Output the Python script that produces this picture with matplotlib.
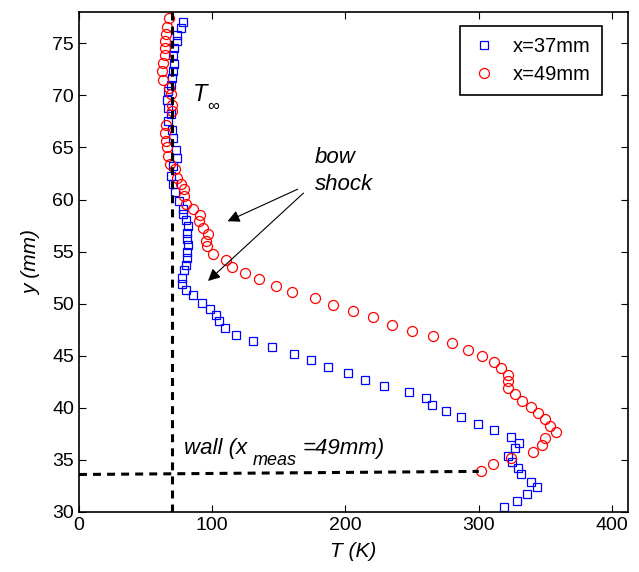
import matplotlib
matplotlib.use('Agg')
import matplotlib.pyplot as plt

plt.rcParams['font.family'] = 'Liberation Sans'

# x = 37 mm profile
y37 = [77.0, 76.5, 75.8, 75.2, 74.55, 73.9, 73.0, 72.3, 71.7, 71.0, 70.4, 69.6, 68.8, 68.2,
       67.5, 66.7, 65.9, 64.8, 64.0, 63.2, 62.3, 61.5, 60.7, 59.9, 59.1, 58.6, 58.0, 57.5,
       56.8, 56.2, 55.6, 55.0, 54.4, 53.7, 53.2, 52.5, 51.9, 51.3, 50.8, 50.1, 49.5, 48.9,
       48.3, 47.7, 47.0, 46.4, 45.8, 45.2, 44.6, 43.9, 43.3, 42.7, 42.1, 41.5, 40.9, 40.3,
       39.7, 39.1, 38.45, 37.85, 37.2, 36.6, 36.1, 35.4, 34.8, 34.2, 33.6, 32.9, 32.4, 31.7,
       31.1, 30.5]
T37 = [78.3, 76.3, 73.8, 73.3, 71.5, 70.8, 71.5, 70.8, 70.0, 69.0, 67.0, 65.8, 67.0, 68.8,
       66.6, 69.6, 70.8, 72.8, 73.3, 70.8, 69.0, 70.3, 72.0, 75.3, 77.8, 78.3, 80.0, 81.5,
       81.3, 81.0, 81.5, 80.8, 80.8, 80.3, 78.8, 77.3, 77.5, 80.0, 85.8, 92.0, 98.3, 102.8,
       104.8, 109.6, 117.8, 130.5, 144.6, 161.4, 174.1, 186.6, 201.6, 214.9, 229.1, 247.4,
       260.4, 264.9, 275.4, 286.9, 299.8, 311.5, 324.2, 330.0, 327.4, 322.2, 324.7, 329.7,
       331.7, 339.0, 344.0, 336.0, 329.0, 319.2]

# x = 49 mm profile
y49 = [77.4, 76.6, 75.9, 75.2, 74.55, 73.9, 73.1, 72.3, 71.5, 70.7, 70.1, 69.1, 68.5, 67.2,
       66.4, 65.6, 65.0, 64.2, 63.4, 62.9, 62.1, 61.5, 61.0, 60.35, 59.6, 59.1, 58.5, 57.9,
       57.3, 56.7, 56.0, 55.5, 54.8, 54.2, 53.55, 52.9, 52.4, 51.7, 51.1, 50.5, 49.9, 49.3,
       48.7, 48.0, 47.4, 46.85, 46.2, 45.6, 45.0, 44.4, 43.8, 43.2, 42.6, 41.9, 41.3, 40.7,
       40.1, 39.5, 38.9, 38.3, 37.7, 37.1, 36.4, 35.8, 35.2, 34.6, 33.95]
T49 = [67.8, 66.3, 65.3, 64.5, 64.8, 64.5, 62.8, 62.0, 63.3, 67.8, 68.8, 69.6, 69.6, 65.3,
       64.5, 65.3, 65.8, 67.0, 68.3, 72.0, 73.8, 76.3, 79.0, 79.0, 80.3, 85.3, 90.8, 90.3,
       93.3, 96.6, 95.0, 96.3, 100.8, 110.3, 114.8, 124.6, 135.1, 147.8, 160.1, 177.1, 190.9,
       205.9, 220.4, 235.2, 249.9, 265.4, 280.2, 291.9, 302.2, 311.2, 316.4, 321.6, 322.2,
       322.2, 327.3, 332.2, 339.0, 344.7, 350.0, 353.5, 357.7, 349.7, 347.2, 340.5, 324.0,
       311.0, 301.7]

T_inf = 70
wall_T = [0, 300]
wall_y = [33.6, 33.9]

fig = plt.figure(figsize=(6.39, 5.72), dpi=100)
ax = fig.add_axes([0.1236, 0.1049, 0.8592, 0.8741])

ax.plot(T37, y37, 's', mfc='none', mec='#0000ff', ms=5.6, mew=0.9, label='x=37mm')
ax.plot(T49, y49, 'o', mfc='none', mec='#ff0000', ms=7.2, mew=0.9, label='x=49mm')

ax.plot([T_inf, T_inf], [30, 78], '--', color='black', lw=2.2, dashes=(2.6, 2))
ax.plot(wall_T, wall_y, '--', color='black', lw=2.2, dashes=(2.6, 2))

ax.text(85.3, 69.5, 'T', fontsize=17, style='italic', va='baseline')
ax.text(96.0, 68.9, '\u221e', fontsize=12, va='center')
ax.text(177, 63.5, 'bow', fontsize=16, style='italic', va='baseline')
ax.text(177, 60.9, 'shock', fontsize=16, style='italic', va='baseline')
ax.annotate('', xy=(109.6, 57.8), xytext=(166, 61.1),
            arrowprops=dict(arrowstyle='-|>', color='black', lw=0.8, mutation_scale=18))
ax.annotate('', xy=(95.3, 52.0), xytext=(170, 60.8),
            arrowprops=dict(arrowstyle='-|>', color='black', lw=0.8, mutation_scale=18))
ax.text(78.8, 35.55, 'wall (x', fontsize=16, style='italic', va='baseline')
ax.text(130.4, 34.5, 'meas', fontsize=13, style='italic', va='baseline')
ax.text(167.5, 35.55, '=49mm)', fontsize=16, style='italic', va='baseline')

ax.set_xlim(0, 412)
ax.set_ylim(30, 78)
ax.set_xticks([0, 100, 200, 300, 400])
ax.set_yticks([30, 35, 40, 45, 50, 55, 60, 65, 70, 75])
ax.tick_params(direction='in', top=True, right=True, labelsize=14, length=5)
ax.set_xlabel('T (K)', fontsize=15, style='italic', labelpad=6)
ax.set_ylabel('y (mm)', fontsize=15, style='italic', labelpad=8)
for s in ax.spines.values():
    s.set_linewidth(1.2)

leg = ax.legend(loc='upper right', fontsize=14.5, fancybox=False, edgecolor='black',
                framealpha=1, bbox_to_anchor=(0.953, 0.972), borderaxespad=0,
                borderpad=0.55, handletextpad=0.8, handlelength=1.3, labelspacing=0.45)
leg.get_frame().set_linewidth(1.2)

fig.savefig('out.png', dpi=100)
